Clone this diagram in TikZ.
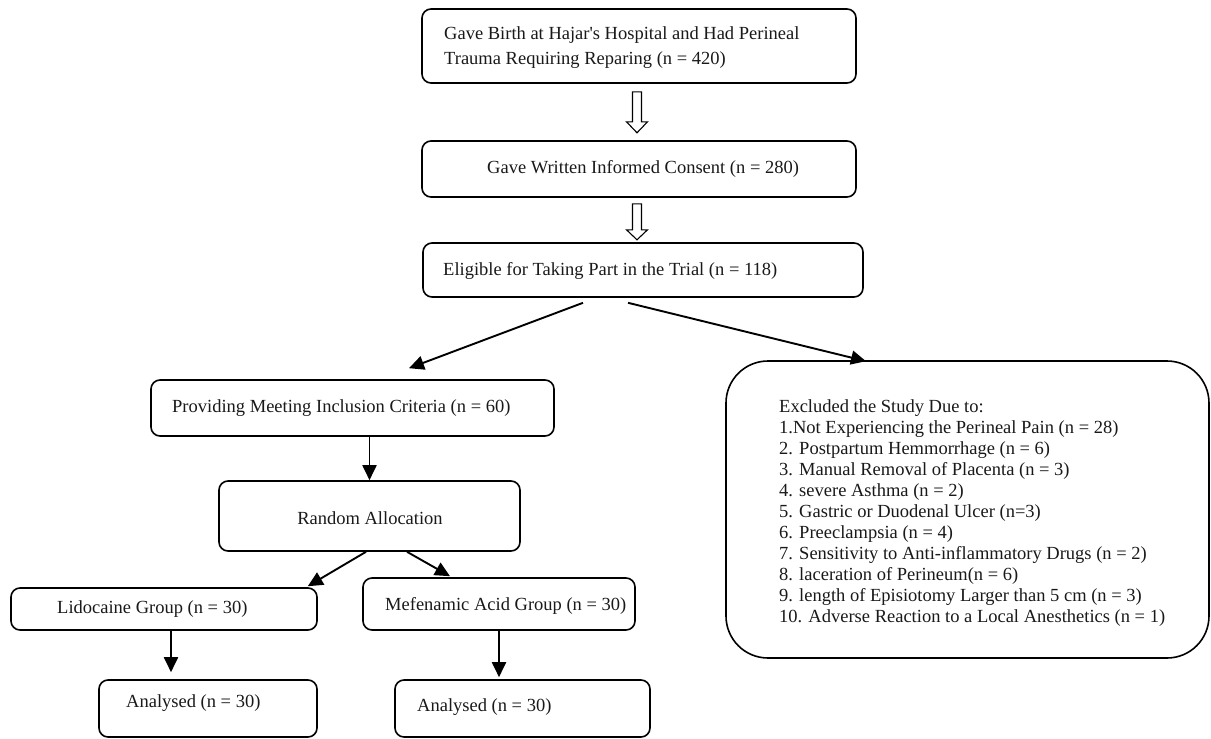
\documentclass[tikz,border=0pt]{standalone}
\usepackage{fontspec}
\setmainfont{Liberation Serif}
\usetikzlibrary{arrows.meta,calc,fit}
\begin{document}
\begin{tikzpicture}[x=1pt,y=-1pt,
  box/.style={draw, line width=1.6pt, rounded corners=9pt, inner sep=0pt},
  txt/.style={font=\fontsize{18.5}{21}\selectfont, inner sep=0pt, anchor=west, align=left, text=black!90},
  arr/.style={line width=1.9pt, -{Triangle[length=15pt,width=14pt]}},
  hollow/.style={line width=1.1pt, fill=white, line join=miter}]
\useasboundingbox (0,0) rectangle (1211,739);

% boxes
\node[box, fit={(422,9)(856,83)}] (b1) {};
\node[box, fit={(422,141)(856,197)}] (b2) {};
\node[box, fit={(423,243)(863,297)}] (b3) {};
\node[box, fit={(151,380)(554,436)}] (prov) {};
\node[box, fit={(219,481)(520,551)}] (rand) {};
\node[box, fit={(11,588)(317,630)}] (lido) {};
\node[box, fit={(363,578)(635,630)}] (mef) {};
\node[box, fit={(99,680)(317,737)}] (ana1) {};
\node[box, fit={(395,680)(650,737)}] (ana2) {};
\node[box, rounded corners=42pt, fit={(726,361)(1209,658)}] (excl) {};

% texts
\node[txt, font=\fontsize{18.5}{25}\selectfont] (t1) at (444,48) {Gave Birth at Hajar\textquotesingle s Hospital and Had Perineal\\Trauma Requiring Reparing (n = 420)};
\node[txt] (t2) at (487,169) {Gave Written Informed Consent (n = 280)};
\node[txt] (t3) at (443,271) {Eligible for Taking Part in the Trial (n = 118)};
\node[txt] (tprov) at (172,408) {Providing Meeting Inclusion Criteria (n = 60)};
\node[txt, anchor=center] (trand) at (370,518) {Random Allocation};
\node[txt] (tlido) at (57,609) {Lidocaine Group (n = 30)};
\node[txt] (tmef) at (385,606) {Mefenamic Acid Group (n = 30)};
\node[txt] (tana1) at (126,703) {Analysed (n = 30)};
\node[txt] (tana2) at (417,707) {Analysed (n = 30)};
\node[txt] (texcl) at (779,513) {Excluded the Study Due to:\\
1.Not Experiencing the Perineal Pain (n = 28)\\
2. Postpartum Hemmorrhage (n = 6)\\
3. Manual Removal of Placenta (n = 3)\\
4. severe Asthma (n = 2)\\
5. Gastric or Duodenal Ulcer (n=3)\\
6. Preeclampsia (n = 4)\\
7. Sensitivity to Anti-inflammatory Drugs (n = 2)\\
8. laceration of Perineum(n = 6)\\
9. length of Episiotomy Larger than 5 cm (n = 3)\\
10. Adverse Reaction to a Local Anesthetics (n = 1)};

% hollow arrows
\coordinate (h1) at ($(b1.south)+(-2,8)$);
\draw[hollow] (h1) ++(-4.5,0) -- ++(9,0) -- ++(0,30) -- ++(6,0) -- ++(-10.5,11) -- ++(-10.5,-11) -- ++(6,0) -- cycle;
\coordinate (h2) at ($(b2.south)+(-2,6)$);
\draw[hollow] (h2) ++(-4.5,0) -- ++(9,0) -- ++(0,26) -- ++(6,0) -- ++(-10.5,10) -- ++(-10.5,-10) -- ++(6,0) -- cycle;

% connectors
\draw[arr] ($(b3.south)+(-60,5)$) -- ($(prov.north)+(56.5,-11)$);
\draw[arr] ($(b3.south)+(-15,5)$) -- ($(excl.north)+(-101.5,1)$);
\draw[arr] (rand.north |- prov.south) -- (rand.north);
\draw[arr] ($(rand.south)+(-3.5,0)$) -- ($(lido.north east)+(-10,-1)$);
\draw[arr] ($(rand.south)+(37.5,0)$) -- ($(mef.north)+(-49,-1)$);
\draw[arr] ($(lido.south)+(7,0)$) -- ($(ana1.north)+(-37,-7)$);
\draw[arr] (mef.south) -- ($(mef.south |- ana2.north)+(0,-2)$);
\end{tikzpicture}
\end{document}
